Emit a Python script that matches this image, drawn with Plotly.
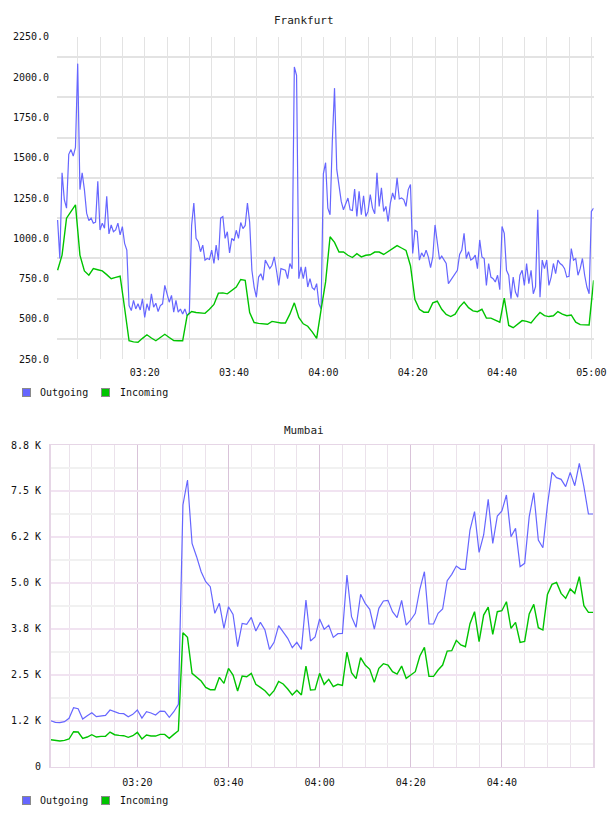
import pandas as pd
import plotly.graph_objects as go

# ---------------- Frankfurt ----------------
fra_out = [
    1114, 875, 1406, 1240, 1187, 1521, 1550, 1510, 1563, 2083,
    1302, 1406, 1302, 1156, 1110, 1125, 1094, 1100, 1354, 1052,
    1094, 1062, 1260, 1027, 1083, 1041, 1052, 1094, 1021, 1073,
    969, 927, 583, 552, 615, 562, 594, 556, 625, 510,
    594, 552, 656, 573, 598, 546, 583, 594, 708, 656,
    604, 646, 542, 615, 542, 562, 531, 562, 521, 540,
    1080, 1219, 1000, 979, 917, 958, 865, 875, 869, 927,
    844, 958, 865, 1125, 1135, 1000, 1041, 910, 1000, 985,
    1050, 1000, 1098, 1060, 1080, 1219, 1100, 802, 698, 635,
    760, 780, 740, 865, 833, 812, 833, 885, 802, 708,
    812, 806, 802, 750, 844, 812, 2062, 2010, 750, 823,
    750, 823, 698, 750, 694, 681, 719, 594, 562, 1400,
    1469, 1187, 1146, 1600, 1931, 1427, 1333, 1229, 1177, 1219,
    1250, 1177, 1173, 1306, 1135, 1292, 1146, 1264, 1135, 1167,
    1271, 1187, 1152, 1406, 1198, 1313, 1167, 1198, 1104, 1219,
    1281, 1240, 1375, 1244, 1250, 1240, 1198, 1302, 1333, 906,
    1050, 1041, 865, 910, 885, 927, 885, 819, 885, 1083,
    969, 870, 890, 865, 844, 719, 740, 760, 781, 802,
    900, 927, 1031, 875, 917, 865, 875, 896, 812, 990,
    885, 875, 708, 844, 760, 750, 729, 771, 681, 1073,
    1031, 802, 771, 625, 760, 667, 635, 771, 802, 708,
    844, 719, 802, 656, 700, 1177, 635, 865, 812, 865,
    708, 760, 844, 781, 865, 844, 833, 812, 760, 765,
    937, 865, 875, 771, 812, 875, 771, 698, 656, 1167, 1187,
]
fra_in = [
    802, 896, 1125, 1167, 1208, 896, 798, 771, 812, 805,
    798, 775, 750, 758, 765, 568, 365, 358, 356, 380,
    402, 382, 365, 385, 405, 385, 366, 365, 365, 521,
    546, 540, 536, 535, 560, 590, 660, 662, 656, 675,
    698, 745, 740, 540, 478, 473, 468, 467, 485, 480,
    475, 475, 530, 600, 510, 470, 455, 420, 380, 560,
    730, 1010, 975, 915, 915, 895, 881, 905, 885, 895,
    898, 915, 915, 900, 920, 940, 955, 940, 925, 830,
    620, 560, 542, 542, 600, 610, 560, 528, 515, 530,
    575, 605, 570, 550, 545, 560, 506, 505, 490, 480,
    630, 460, 446, 470, 490, 485, 475, 510, 540, 521,
    515, 520, 546, 530, 520, 525, 480, 465, 465, 463, 740,
]
fra_out_t = pd.date_range("2024-01-01 03:00:30", periods=len(fra_out), freq="30s")
fra_in_t = pd.date_range("2024-01-01 03:00:30", periods=len(fra_in), freq="1min")
fra_yticks = [250, 500, 750, 1000, 1250, 1500, 1750, 2000, 2250]

# ---------------- Mumbai ----------------
mum_out = [
    1251, 1206, 1197, 1224, 1315, 1605, 1578, 1297, 1387, 1469,
    1360, 1369, 1396, 1541, 1505, 1451, 1442, 1360, 1423, 1541,
    1324, 1496, 1460, 1405, 1514, 1505, 1342, 1496, 1696, 7118,
    7798, 6075, 5712, 5304, 5032, 4896, 4171, 4443, 3763, 4352,
    4144, 3264, 3899, 3872, 4062, 3690, 3926, 3718, 3192, 3382,
    3835, 3672, 3491, 3237, 3382, 3192, 4534, 3418, 3527, 4017,
    3736, 3844, 3518, 3618, 3627, 5214, 4080, 3790, 4688, 4443,
    4280, 3745, 4307, 4506, 4524, 4216, 4053, 4524, 3853, 3990,
    4171, 4833, 5304, 3881, 3881, 4171, 4289, 5059, 5232, 5458,
    5368, 5368, 6438, 6936, 5830, 6302, 7272, 6075, 6819, 6955,
    7390, 6256, 6483, 5440, 5531, 6800, 7453, 6166, 5957, 7118,
    8006, 7861, 7816, 7616, 8006, 7643, 8251, 7616, 6873, 6873,
]
mum_in = [
    734, 716, 698, 716, 753, 952, 943, 771, 807, 870,
    807, 825, 825, 943, 870, 852, 843, 798, 843, 934,
    753, 861, 834, 834, 880, 880, 771, 880, 979, 3645,
    3518, 2539, 2430, 2330, 2158, 2095, 2095, 2430, 2267, 2675,
    2494, 2059, 2466, 2448, 2539, 2240, 2158, 2068, 1931, 2068,
    2321, 2249, 2113, 1950, 2077, 1950, 2738, 2086, 2095, 2539,
    2240, 2376, 2177, 2240, 2213, 3119, 2557, 2394, 2965, 2765,
    2648, 2294, 2675, 2802, 2765, 2584, 2521, 2738, 2403, 2503,
    2584, 3010, 3246, 2457, 2457, 2630, 2765, 3146, 3155, 3436,
    3310, 3264, 3890, 4216, 3400, 4125, 4343, 3600, 4216, 4243,
    4488, 3763, 3926, 3382, 3409, 4153, 4416, 3781, 3718, 4688,
    4960, 5014, 4715, 4579, 4833, 4715, 5168, 4380, 4198, 4198,
]
mum_t = pd.date_range("2024-01-01 03:01:00", periods=len(mum_out), freq="1min")
mum_yticks = [0, 1250, 2500, 3750, 5000, 6250, 7500, 8750]
mum_ytext = ["0", "1.2 K", "2.5 K", "3.8 K", "5.0 K", "6.2 K", "7.5 K", "8.8 K"]
mum_xticks = ["2024-01-01 03:20", "2024-01-01 03:40", "2024-01-01 04:00",
              "2024-01-01 04:20", "2024-01-01 04:40"]

titles = ["Frankfurt", "Mumbai"]
series_names = ["Outgoing", "Incoming"]
BLUE = "#6666ff"
GREEN = "#00c400"
series_colors = [BLUE, GREEN]
FONT = dict(family="DejaVu Sans Mono", size=10, color="#111")

W, H = 608, 816
def px_x(a, b):
    return [a / W, b / W]
def px_y(top, bottom):
    return [1 - bottom / H, 1 - top / H]

fig = go.Figure()
fig.add_trace(go.Scatter(x=fra_out_t, y=fra_out, mode="lines", name=series_names[0],
                         line=dict(color=BLUE, width=1.2), showlegend=False, xaxis="x", yaxis="y"))
fig.add_trace(go.Scatter(x=fra_in_t, y=fra_in, mode="lines", name=series_names[1],
                         line=dict(color=GREEN, width=1.4), showlegend=False, xaxis="x", yaxis="y"))
fig.add_trace(go.Scatter(x=mum_t, y=mum_out, mode="lines", name=series_names[0],
                         line=dict(color=BLUE, width=1.2), showlegend=False, xaxis="x2", yaxis="y2"))
fig.add_trace(go.Scatter(x=mum_t, y=mum_in, mode="lines", name=series_names[1],
                         line=dict(color=GREEN, width=1.4), showlegend=False, xaxis="x2", yaxis="y2"))

# legends drawn as annotation rows (swatch box + label) under each panel
annotations = []
for row_y in [392, 800.5]:
    for j, (name, col) in enumerate(zip(series_names, series_colors)):
        sx = 26 + 80 * j
        annotations.append(dict(text=" ", x=sx / W, y=1 - row_y / H, xref="paper", yref="paper",
                                xanchor="center", yanchor="middle", showarrow=False,
                                width=7, height=7, bgcolor=col, bordercolor="#8a8a8a",
                                borderwidth=1, borderpad=0, font=dict(size=1)))
        annotations.append(dict(text=name, x=(sx + 12) / W, y=1 - row_y / H, xref="paper",
                                yref="paper", xanchor="left", yanchor="middle", showarrow=False,
                                font=FONT))
for title, ty in zip(titles, [20, 430]):
    annotations.append(dict(text=title, x=0.5, y=1 - ty / H, xref="paper", yref="paper",
                            xanchor="center", yanchor="middle", showarrow=False,
                            font=dict(family="DejaVu Sans Mono", size=11, color="#222")))

grid_top = "#e3e3e3"
fig.update_layout(
    width=W, height=H, margin=dict(l=0, r=0, t=0, b=0, autoexpand=False),
    paper_bgcolor="white", plot_bgcolor="white", font=FONT, showlegend=False,
    xaxis=dict(domain=px_x(57, 593.6), type="date",
               range=["2024-01-01 03:00:22", "2024-01-01 05:00:30"],
               tick0="2024-01-01 03:00", dtick=20 * 60 * 1000, tickformat="%H:%M",
               showgrid=True, gridcolor=grid_top, gridwidth=1, zeroline=False,
               showline=False, ticks="", ticklabelstandoff=6, ticklabeloverflow="allow",
               minor=dict(dtick=5 * 60 * 1000, showgrid=True, gridcolor=grid_top, gridwidth=1),
               anchor="y", tickfont=FONT, automargin=False),
    yaxis=dict(domain=px_y(36.7, 359.3), range=[250, 2250],
               tickmode="array", tickvals=fra_yticks, tickformat=".1f",
               showgrid=False, zeroline=False, showline=False, ticks="",
               ticklabelstandoff=7,
               minor=dict(tick0=375, dtick=250, showgrid=True, gridcolor=grid_top, gridwidth=1.5),
               anchor="x", tickfont=FONT, automargin=False),
    xaxis2=dict(domain=px_x(50.8, 593), type="date",
                range=["2024-01-01 03:01:00", "2024-01-01 05:00:00"],
                tickmode="array", tickvals=mum_xticks, tickformat="%H:%M",
                showgrid=True, gridcolor="#d9c3d9", gridwidth=1, zeroline=False,
                showline=True, mirror=True, linecolor="#e6d6e6", linewidth=1,
                ticks="", ticklabelstandoff=6,
                minor=dict(dtick=5 * 60 * 1000, tick0="2024-01-01 03:00", showgrid=True,
                           gridcolor="#ebe2eb", gridwidth=1),
                anchor="y2", tickfont=FONT, automargin=False),
    yaxis2=dict(domain=px_y(445, 766.7), range=[0, 8750],
                tickmode="array", tickvals=mum_yticks, ticktext=mum_ytext,
                showgrid=True, gridcolor="#f1e3f1", gridwidth=2, zeroline=False,
                showline=True, mirror=True, linecolor="#e6d6e6", linewidth=1.5,
                ticks="", ticklabelstandoff=6,
                minor=dict(tick0=0, dtick=625, showgrid=True, gridcolor="#f1f1f1", gridwidth=2),
                anchor="x2", tickfont=FONT, automargin=False),
    annotations=annotations,
)

fig.write_html("out.html")
